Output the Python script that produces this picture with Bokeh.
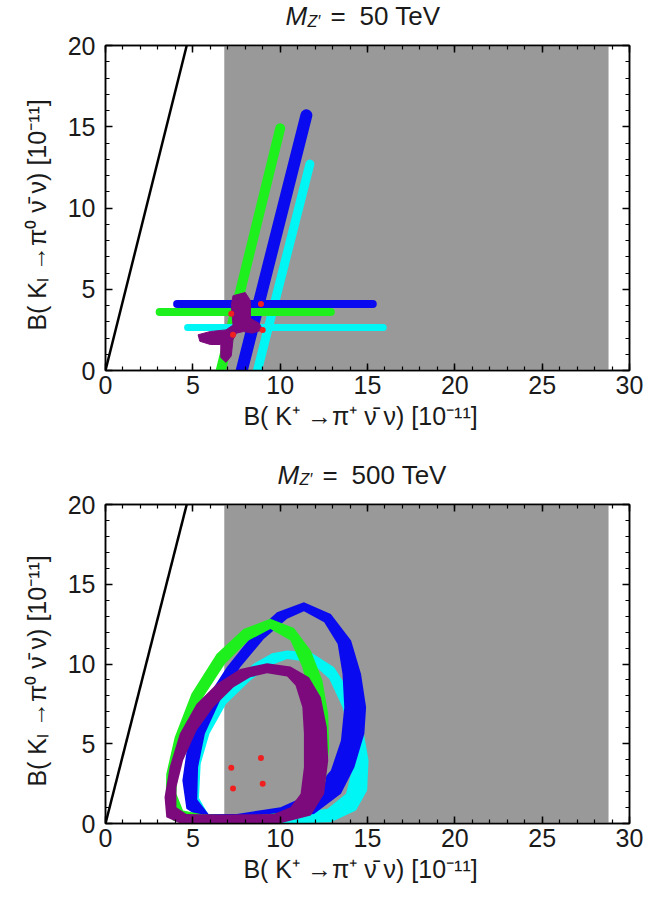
from bokeh.plotting import figure
from bokeh.layouts import column
from bokeh.models import Range1d, LinearAxis, SingleIntervalTicker, CustomJSTickFormatter
from bokeh.core.properties import value
from bokeh.embed import file_html
from bokeh.resources import INLINE

# ---------------- data (units of 1e-11) ----------------
X_RANGE = [0, 30]
Y_RANGE = [0, 20]
EXP_KP = [6.8, 28.8]            # grey band in B(K+ -> pi+ nu nu)
GN_X = [0, 4.65]                # Grossman-Nir bound
GN_Y = [0, 20]
SM_KP = [7.2, 8.9, 7.3, 9.0]    # red points
SM_KL = [3.5, 4.1, 2.2, 2.5]

# top panel (M_Z' = 50 TeV): straight bands
V_BLUE_X, V_BLUE_Y = [7.8, 11.5], [0.0, 15.7]
V_GREEN_X, V_GREEN_Y = [6.6, 10.0], [0.0, 14.9]
V_CYAN_X, V_CYAN_Y = [8.7, 11.7], [0.0, 12.7]
H_BLUE_X, H_BLUE_Y = [4.1, 15.3], [4.1, 4.1]
H_GREEN_X, H_GREEN_Y = [3.1, 12.9], [3.6, 3.6]
H_CYAN_X, H_CYAN_Y = [4.7, 15.9], [2.65, 2.65]
PURPLE_TOP_X = [7.3, 8.0, 8.3, 8.3, 8.8, 9.0, 8.4, 7.9, 7.5, 7.3, 7.2, 6.9, 6.6, 6.6, 6.0, 5.4, 5.3, 6.0, 6.9, 7.3, 7.2]
PURPLE_TOP_Y = [4.6, 4.8, 4.3, 3.2, 2.9, 2.5, 2.3, 2.4, 2.3, 1.9, 0.9, 0.5, 0.8, 1.6, 1.6, 1.8, 2.2, 2.4, 2.5, 2.8, 4.0]

# bottom panel (M_Z' = 500 TeV): rings (outer / inner contour)
BLUE_OUT_X = [11.36, 12.90, 14.06, 14.63, 14.92, 14.82, 14.25, 13.48, 11.94, 8.48, 5.59, 4.63, 4.40, 4.73, 5.59, 6.94, 8.48, 9.82]
BLUE_OUT_Y = [13.87, 13.14, 11.47, 9.38, 7.29, 5.62, 3.53, 1.86, 0.60, 0.18, 0.23, 0.92, 2.69, 5.20, 7.50, 9.80, 11.89, 13.25]
BLUE_IN_X = [11.36, 12.52, 13.29, 13.57, 13.67, 13.48, 12.90, 11.75, 10.02, 7.52, 5.90, 5.25, 5.30, 5.69, 6.56, 7.71, 9.06, 10.40]
BLUE_IN_Y = [13.31, 12.62, 11.26, 9.38, 7.29, 5.20, 3.32, 1.86, 1.02, 0.60, 0.60, 1.50, 3.53, 5.62, 7.71, 9.80, 11.57, 12.83]
GREEN_OUT_X = [9.44, 10.79, 11.75, 12.42, 12.75, 12.81, 12.61, 11.94, 10.79, 8.48, 5.59, 3.86, 3.44, 3.48, 3.96, 4.92, 6.36, 7.90]
GREEN_OUT_Y = [12.83, 12.26, 10.84, 8.96, 6.87, 4.78, 2.69, 1.02, 0.23, 0.02, 0.02, 0.18, 1.23, 3.11, 5.41, 8.13, 10.63, 12.20]
GREEN_IN_X = [9.44, 10.59, 11.27, 11.75, 12.04, 11.94, 11.46, 10.40, 8.48, 5.59, 4.44, 4.06, 4.15, 4.63, 5.59, 6.84, 8.19]
GREEN_IN_Y = [12.20, 11.47, 9.80, 7.71, 5.41, 3.11, 1.44, 0.71, 0.50, 0.56, 0.81, 1.86, 3.53, 5.62, 7.92, 10.01, 11.47]
CYAN_OUT_X = [10.40, 11.75, 13.09, 14.06, 14.73, 15.06, 14.98, 14.34, 12.90, 10.40, 7.52, 5.59, 4.83, 4.79, 5.21, 5.98, 7.13, 8.48, 9.54]
CYAN_OUT_Y = [10.84, 10.74, 9.80, 8.13, 6.04, 3.95, 2.07, 0.81, 0.08, 0.0, 0.0, 0.14, 1.02, 2.69, 4.78, 6.87, 8.75, 10.01, 10.68]
CYAN_IN_X = [10.40, 11.75, 12.81, 13.57, 14.06, 14.15, 13.77, 12.71, 10.40, 7.52, 5.90, 5.35, 5.45, 5.95, 6.90, 8.29, 9.44]
CYAN_IN_Y = [10.32, 10.11, 9.07, 7.29, 5.41, 3.53, 1.86, 0.92, 0.60, 0.50, 0.55, 1.60, 3.74, 5.62, 7.50, 8.96, 9.90]
PURPLE_OUT_X = [9.25, 10.59, 11.65, 12.33, 12.67, 12.75, 12.52, 11.75, 10.02, 6.56, 4.25, 3.48, 3.38, 3.67, 4.25, 5.21, 6.36, 7.71]
PURPLE_OUT_Y = [10.05, 9.84, 9.17, 7.92, 6.04, 3.95, 1.86, 0.50, 0.02, 0.0, 0.02, 0.39, 1.65, 3.53, 5.62, 7.50, 8.75, 9.69]
PURPLE_IN_X = [9.25, 10.40, 10.88, 11.27, 11.36, 11.36, 11.17, 10.59, 9.63, 6.56, 4.63, 4.06, 4.06, 4.44, 5.21, 6.17, 7.33, 8.29]
PURPLE_IN_Y = [9.42, 9.21, 8.65, 7.29, 5.62, 3.53, 1.86, 1.02, 0.60, 0.56, 0.60, 1.02, 2.27, 3.95, 5.83, 7.29, 8.54, 9.17]

X_LABEL = "B( K\u207a \u2192\u03c0\u207a  \u03bd\u0304 \u03bd)  [10\u207b\u00b9\u00b9]"
Y_LABEL = "B( K\u2097 \u2192\u03c0\u2070  \u03bd\u0304 \u03bd)  [10\u207b\u00b9\u00b9]"
TITLE_MAIN = "M"
TITLE_SUB = "Z\u2032"
TITLE_EQ = "="
TITLES = ["50 TeV", "500 TeV"]

BLUE, GREEN, CYAN, PURPLE, RED, GREY = "#0a0af0", "#1ef01e", "#00f5f5", "#7d0a7d", "#f02020", "#999999"
FONT = "Liberation Sans"
INK = "#1a1a1a"


def title_fig(height, cy, shift, rest):
    """A strip above a panel holding its title; x uses the panel's data range, offsets in px."""
    t = figure(width=650, height=height, x_range=Range1d(*X_RANGE), y_range=Range1d(0, height),
               output_backend="svg", toolbar_location=None,
               min_border_left=105, min_border_right=20, min_border_top=0, min_border_bottom=0,
               x_axis_location=None, y_axis_location=None)
    t.grid.visible = False
    t.outline_line_color = None
    xc = [sum(X_RANGE) / 2]
    t.text(x=xc, y=[cy], x_offset=-82 - shift, text=[TITLE_MAIN], text_font=value(FONT), text_font_size="26px",
           text_font_style="italic", text_baseline="middle", text_color=INK)
    t.text(x=xc, y=[cy - 5], x_offset=-60 - shift, text=[TITLE_SUB], text_font=value(FONT), text_font_size="16px",
           text_font_style="italic", text_baseline="middle", text_color=INK)
    t.text(x=xc, y=[cy], x_offset=-37 - shift, text=[TITLE_EQ], text_font=value(FONT), text_font_size="26px",
           text_baseline="middle", text_color=INK)
    t.text(x=xc, y=[cy], x_offset=-8 - shift, text=[rest], text_font=value(FONT), text_font_size="26px",
           text_baseline="middle", text_color=INK)
    return t


def make_fig(width, height, bl, br, bt, bb):
    p = figure(width=width, height=height, x_range=Range1d(*X_RANGE), y_range=Range1d(*Y_RANGE),
               output_backend="svg", toolbar_location=None,
               min_border_left=bl, min_border_right=br, min_border_top=bt, min_border_bottom=bb)
    p.grid.visible = False
    p.background_fill_color = "white"
    p.outline_line_color = "black"
    p.outline_line_width = 1.5
    p.xaxis.axis_label = X_LABEL
    p.yaxis.axis_label = Y_LABEL
    p.add_layout(LinearAxis(), "above")
    p.add_layout(LinearAxis(), "right")
    for ax in p.axis:
        ax.ticker = SingleIntervalTicker(interval=5, num_minor_ticks=5)
        ax.axis_line_color = "black"
        ax.axis_line_width = 1.5
        ax.major_tick_in = 7
        ax.major_tick_out = 0
        ax.minor_tick_in = 4
        ax.minor_tick_out = 0
        ax.major_tick_line_width = 1.5
        ax.minor_tick_line_width = 1.2
        ax.major_tick_line_color = "black"
        ax.minor_tick_line_color = "black"
        ax.major_label_text_font = FONT
        ax.major_label_text_font_size = "25px"
        ax.major_label_text_color = INK
        ax.axis_label_text_font = FONT
        ax.axis_label_text_font_size = "25px"
        ax.axis_label_text_font_style = "normal"
        ax.axis_label_text_color = INK
    for ax in p.above + p.right:
        ax.formatter = CustomJSTickFormatter(code="return ''")
        ax.major_label_text_font_size = "1px"
        ax.major_label_standoff = 0
    p.xaxis[0].major_label_standoff = 12
    p.xaxis[0].axis_label_standoff = 10
    p.yaxis[0].major_label_standoff = 10
    p.yaxis[0].axis_label_standoff = 14
    # grey experimental band
    p.quad(left=[EXP_KP[0]], right=[EXP_KP[1]], bottom=[Y_RANGE[0]], top=[Y_RANGE[1]],
           fill_color=GREY, line_color=None)
    return p


t1 = title_fig(31, 15.5, 0, TITLES[0])
p1 = make_fig(650, 427, 105, 14, 14, 88)
for xs, ys, c, w in [(V_CYAN_X, V_CYAN_Y, CYAN, 9), (V_BLUE_X, V_BLUE_Y, BLUE, 12), (V_GREEN_X, V_GREEN_Y, GREEN, 10),
                     (H_CYAN_X, H_CYAN_Y, CYAN, 7), (H_BLUE_X, H_BLUE_Y, BLUE, 8), (H_GREEN_X, H_GREEN_Y, GREEN, 8)]:
    p1.line(xs, ys, line_color=c, line_width=w, line_cap="round")
p1.patch(PURPLE_TOP_X, PURPLE_TOP_Y, fill_color=PURPLE, line_color=PURPLE, line_width=1)
p1.line(GN_X, GN_Y, line_color="black", line_width=2.5)
p1.scatter(SM_KP, SM_KL, size=6, fill_color=RED, line_color=None)

t2 = title_fig(32, 16, 8, TITLES[1])
p2 = make_fig(650, 417, 103, 21, 14, 84)
for ox, oy, ix, iy, c in [(CYAN_OUT_X, CYAN_OUT_Y, CYAN_IN_X, CYAN_IN_Y, CYAN),
                          (BLUE_OUT_X, BLUE_OUT_Y, BLUE_IN_X, BLUE_IN_Y, BLUE),
                          (GREEN_OUT_X, GREEN_OUT_Y, GREEN_IN_X, GREEN_IN_Y, GREEN),
                          (PURPLE_OUT_X, PURPLE_OUT_Y, PURPLE_IN_X, PURPLE_IN_Y, PURPLE)]:
    p2.multi_polygons(xs=[[[ox, ix]]], ys=[[[oy, iy]]], fill_color=c, line_color=None)
p2.line(GN_X, GN_Y, line_color="black", line_width=2.5)
p2.scatter(SM_KP, SM_KL, size=6, fill_color=RED, line_color=None)

layout = column(t1, p1, t2, p2)
open("out.html", "w").write(file_html(layout, INLINE))
